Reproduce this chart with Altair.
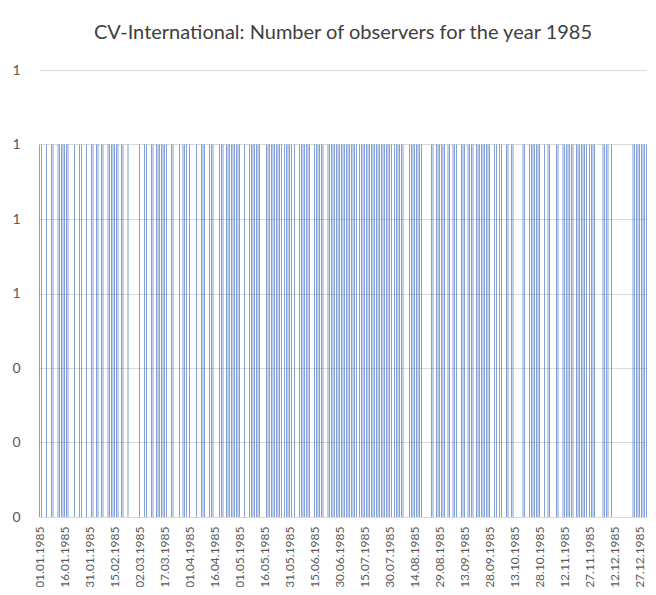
import altair as alt
import pandas as pd

# All days of 1985 (category axis)
day_labels = [d.strftime("%d.%m.%Y") for d in pd.date_range("1985-01-01", "1985-12-31", freq="D")]

observed_day_index = [
    0, 1, 4, 7, 8, 11, 12, 13, 14, 15, 16, 17, 21, 24, 25, 28, 31, 32, 34, 35, 37, 38,
    41, 42, 43, 44, 45, 46, 47, 49, 50, 53,
    60, 63, 64, 67, 68, 70, 71, 72, 73, 74, 75, 76, 79, 80, 84, 86, 87, 88, 90, 94,
    97, 98, 99, 102, 103, 104, 108, 109, 110, 112, 113, 114, 115, 116,
    117, 118, 119, 120, 123, 126, 127, 128, 129, 130, 131, 132, 136, 137, 138, 139, 140, 141,
    142, 143, 144, 145, 147, 148, 149, 150, 151, 153, 156, 157, 158, 159, 160, 161, 162,
    165, 166, 167, 168, 169, 170, 173, 174, 175, 176,
    177, 178, 179, 180, 181, 182, 183, 184, 185, 186, 187, 188, 189, 190, 192, 193, 194, 195,
    196, 197, 198, 199, 200, 201, 202, 203, 204, 205, 206, 207, 208, 209, 210, 211,
    213, 214, 215, 216, 217, 218, 222, 223, 224, 225, 226, 227, 228, 229,
    235, 236, 238, 239, 240, 241, 242, 243, 245, 246, 248, 249, 250, 253, 254, 255,
    257, 258, 259, 260, 262, 263, 264, 265, 266, 267, 268, 269, 270, 273, 274, 276, 277,
    280, 281, 283, 284, 290, 291, 294, 295, 296,
    297, 298, 299, 300, 303, 305, 306, 310, 311, 314, 315, 316, 317, 318, 319, 320,
    322, 323, 324, 325, 326, 327, 328, 330, 331, 332, 333, 338, 339, 340, 341, 343,
    356, 357, 358, 359, 360, 361, 362, 363, 364,
]

# Tick labels shown on the x axis (every 15th day)
x_tick_labels = [
    "01.01.1985", "16.01.1985", "31.01.1985", "15.02.1985", "02.03.1985", "17.03.1985",
    "01.04.1985", "16.04.1985", "01.05.1985", "16.05.1985", "31.05.1985", "15.06.1985",
    "30.06.1985", "15.07.1985", "30.07.1985", "14.08.1985", "29.08.1985", "13.09.1985",
    "28.09.1985", "13.10.1985", "28.10.1985", "12.11.1985", "27.11.1985", "12.12.1985",
    "27.12.1985",
]

y_tick_values = [0, 0.2, 0.4, 0.6, 0.8, 1.0, 1.2]

obs = set(observed_day_index)
df = pd.DataFrame({
    "date": day_labels,
    "observers": [1 if i in obs else 0 for i in range(len(day_labels))],
})

FONT = "Lato"

chart = alt.Chart(df).mark_bar(color="#4472C4").encode(
    x=alt.X(
        "date:N",
        sort=day_labels,
        scale=alt.Scale(paddingInner=0.6, paddingOuter=0.2),
        axis=alt.Axis(
            title=None,
            values=x_tick_labels,
            labelAngle=-90,
            labelFont=FONT,
            labelFontSize=12,
            labelColor="#595959",
            labelPadding=9,
            ticks=False,
            domain=True,
            domainColor="#D9D9D9",
            grid=False,
        ),
    ),
    y=alt.Y(
        "observers:Q",
        scale=alt.Scale(domain=[0, 1.2], nice=False),
        axis=alt.Axis(
            title=None,
            values=y_tick_values,
            format=".0f",
            labelFont=FONT,
            labelFontSize=14,
            labelColor="#595959",
            labelPadding=19,
            ticks=False,
            domain=False,
            grid=True,
            gridColor="#D9D9D9",
            gridWidth=1,
        ),
    ),
).properties(
    width=608,
    height=447,
    title=alt.TitleParams(
        "CV-International: Number of observers for the year 1985",
        font=FONT,
        fontSize=20,
        fontWeight="normal",
        color="#404040",
        anchor="middle",
        offset=20,
    ),
    autosize=alt.AutoSizeParams(type="none"),
    padding={"left": 31, "top": 62, "right": 0, "bottom": 70},
).configure_view(stroke=None)

chart.save("out.html", embed_options={"renderer": "svg", "actions": False})
